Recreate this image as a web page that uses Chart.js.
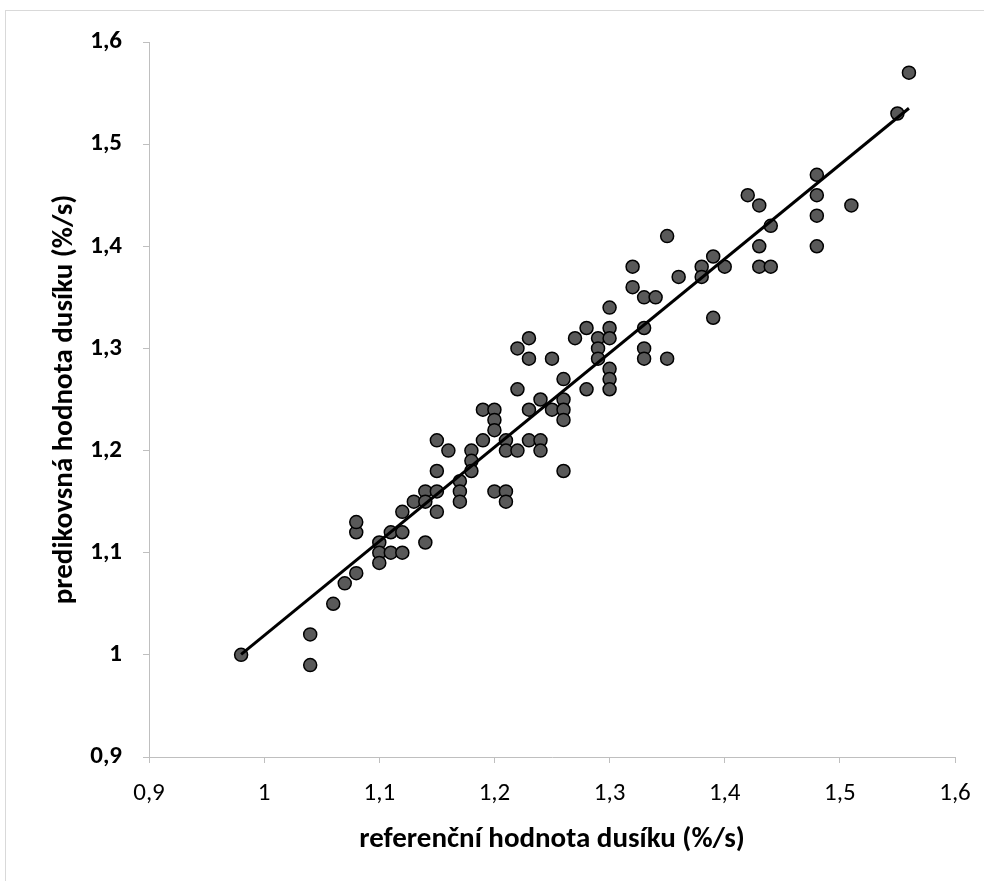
<!DOCTYPE html>
<html>
<head>
<meta charset="utf-8">
<script src="https://cdn.jsdelivr.net/npm/chart.js@4.4.1/dist/chart.umd.min.js"></script>
<style>
  html, body { margin: 0; padding: 0; background: #fff; }
  #frame { position: absolute; left: 5px; top: 10px; width: 1000px; height: 900px; border: 1px solid #d9d9d9; }
  #wrap { position: absolute; left: 0; top: 0; width: 984px; height: 881px; }
</style>
</head>
<body>
<div id="frame"></div>
<div id="wrap"><canvas id="graf" width="984" height="881"></canvas></div>
<script>
// referencni hodnoty (x) a predikce (y)
const refHodnoty = [
  0.98, 1.04, 1.04, 1.06, 1.07, 1.08, 1.08, 1.08, 1.10, 1.10,
  1.10, 1.11, 1.11, 1.12, 1.12, 1.12, 1.13, 1.14, 1.14, 1.14,
  1.15, 1.15, 1.15, 1.15, 1.16, 1.17, 1.17, 1.17, 1.18, 1.18,
  1.18, 1.19, 1.19, 1.20, 1.20, 1.20, 1.20, 1.21, 1.21, 1.21,
  1.21, 1.22, 1.22, 1.22, 1.23, 1.23, 1.23, 1.23, 1.24, 1.24,
  1.24, 1.25, 1.25, 1.26, 1.26, 1.26, 1.26, 1.26, 1.27, 1.28,
  1.28, 1.29, 1.29, 1.29, 1.30, 1.30, 1.30, 1.30, 1.30, 1.30,
  1.32, 1.32, 1.33, 1.33, 1.33, 1.33, 1.34, 1.35, 1.35, 1.36,
  1.38, 1.38, 1.39, 1.39, 1.40, 1.42, 1.43, 1.43, 1.43, 1.44,
  1.44, 1.48, 1.48, 1.48, 1.48, 1.51, 1.55, 1.56
];
const predHodnoty = [
  1.00, 1.02, 0.99, 1.05, 1.07, 1.08, 1.12, 1.13, 1.11, 1.10,
  1.09, 1.12, 1.10, 1.14, 1.12, 1.10, 1.15, 1.16, 1.15, 1.11,
  1.21, 1.18, 1.16, 1.14, 1.20, 1.17, 1.16, 1.15, 1.20, 1.19,
  1.18, 1.24, 1.21, 1.24, 1.23, 1.22, 1.16, 1.21, 1.20, 1.16,
  1.15, 1.30, 1.26, 1.20, 1.31, 1.29, 1.24, 1.21, 1.25, 1.21,
  1.20, 1.29, 1.24, 1.27, 1.25, 1.24, 1.23, 1.18, 1.31, 1.32,
  1.26, 1.31, 1.30, 1.29, 1.34, 1.32, 1.31, 1.28, 1.27, 1.26,
  1.38, 1.36, 1.35, 1.32, 1.30, 1.29, 1.35, 1.41, 1.29, 1.37,
  1.38, 1.37, 1.39, 1.33, 1.38, 1.45, 1.44, 1.40, 1.38, 1.42,
  1.38, 1.47, 1.45, 1.43, 1.40, 1.44, 1.53, 1.57
];
const osaMin = 0.9;
const osaMax = 1.6;
const krok = 0.1;

const pismo = "Carlito, Calibri, Lato, sans-serif";

var body = [];
refHodnoty.forEach((x, i) => {
  body.push({ x: x, y: predHodnoty[i] });
});

// linearni trend (nejmensi ctverce)
function spocitejTrend() {
  var n = refHodnoty.length;
  var sx = 0, sy = 0, sxy = 0, sxx = 0;
  for (var i = 0; i < n; i++) {
    sx += refHodnoty[i];
    sy += predHodnoty[i];
    sxy += refHodnoty[i] * predHodnoty[i];
    sxx += refHodnoty[i] * refHodnoty[i];
  }
  var b = (n * sxy - sx * sy) / (n * sxx - sx * sx);
  var a = (sy - b * sx) / n;
  var xmin = Math.min(...refHodnoty);
  var xmax = Math.max(...refHodnoty);
  return [{ x: xmin, y: a + b * xmin }, { x: xmax, y: a + b * xmax }];
}

function popisek(v) {
  return (Math.round(v * 10) / 10).toString().replace(".", ",");
}

const ctx = document.getElementById("graf").getContext("2d");
const myChart = new Chart(ctx, {
  type: "scatter",
  data: {
    datasets: [
      {
        type: "line",
        label: "trend",
        data: spocitejTrend(),
        borderColor: "#000000",
        borderWidth: 3,
        pointRadius: 0,
        fill: false,
        order: 0,
      },
      {
        label: "data",
        data: body,
        backgroundColor: "#595959",
        borderColor: "#000000",
        borderWidth: 1.5,
        pointRadius: 6.5,
        order: 1,
      },
    ],
  },
  options: {
    responsive: false,
    animation: false,
    layout: { padding: { top: 42, right: 29, left: 0, bottom: 0 } },
    plugins: { legend: { display: false }, tooltip: { enabled: false } },
    scales: {
      x: {
        type: "linear",
        min: osaMin,
        max: osaMax,
        afterFit: (s) => { s.height = 124; s.paddingLeft = 0; s.paddingRight = 0; },
        ticks: {
          stepSize: krok,
          color: "#000",
          padding: 16,
          font: { family: pismo, size: 25 },
          callback: popisek,
        },
        grid: { drawOnChartArea: false, drawTicks: true, tickLength: 6, color: "#bfbfbf" },
        border: { color: "#bfbfbf", width: 1 },
        title: {
          display: true,
          text: "referenční hodnota dusíku (%/s)",
          color: "#000",
          font: { family: pismo, size: 29, weight: "bold" },
          padding: { top: 0, bottom: 24 },
        },
      },
      y: {
        type: "linear",
        min: osaMin,
        max: osaMax,
        afterFit: (s) => { s.width = 149; },
        ticks: {
          stepSize: krok,
          color: "#000",
          padding: 21,
          font: { family: pismo, size: 25, weight: "bold" },
          callback: popisek,
        },
        grid: { drawOnChartArea: false, drawTicks: true, tickLength: 6, color: "#bfbfbf" },
        border: { color: "#bfbfbf", width: 1 },
        title: {
          display: true,
          text: "predikovsná hodnota dusíku (%/s)",
          color: "#000",
          font: { family: pismo, size: 29, weight: "bold" },
          padding: { top: 47, bottom: 0 },
        },
      },
    },
  },
});
</script>
</body>
</html>
